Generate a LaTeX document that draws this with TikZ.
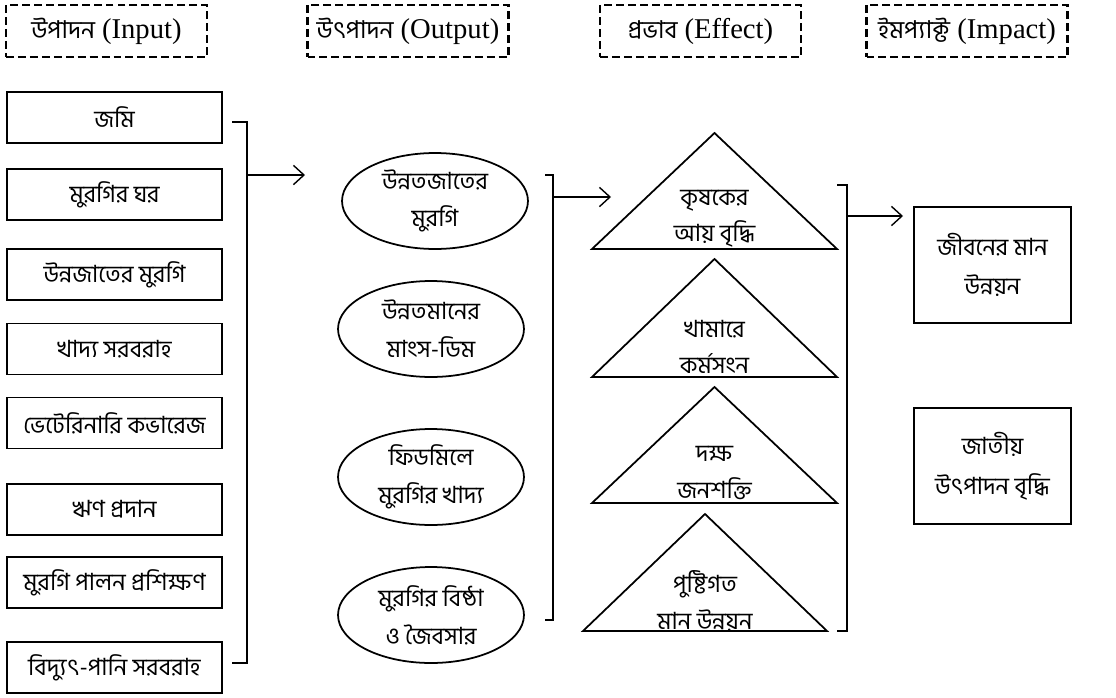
\documentclass[tikz,border=0pt]{standalone}
\usepackage{fontspec}
\setmainfont{Liberation Serif}
\newfontfamily\bnfont[Script=Bengali]{Hind Siliguri}
\newcommand{\headbn}[1]{{\bnfont\fontsize{14}{18}\selectfont #1}}
\usetikzlibrary{shapes,arrows.meta,positioning,calc}

\begin{document}
\begin{tikzpicture}[x=0.02cm, y=-0.02cm,
  head/.style={rectangle, draw, dash pattern=on 4.5pt off 2.3pt, line width=1.3pt,
               minimum width=4.02cm, minimum height=1.04cm, inner sep=0pt,
               font=\fontsize{16.3}{18}\selectfont},
  inbox/.style={rectangle, draw, line width=1pt, minimum width=4.3cm,
                minimum height=1.02cm, inner sep=0pt,
                font=\bnfont\fontsize{13.5}{17}\selectfont},
  outell/.style={ellipse, draw, line width=1pt, minimum width=3.72cm,
                 minimum height=1.92cm, inner sep=0pt, align=center,
                 font=\bnfont\fontsize{13.5}{21.5}\selectfont},
  efftext/.style={align=center, inner sep=0pt,
                  font=\bnfont\fontsize{13.5}{20.5}\selectfont},
  tri/.style={draw, line width=1pt, line join=miter},
  impbox/.style={rectangle, draw, line width=1pt, minimum width=3.14cm,
                 minimum height=2.32cm, inner sep=0pt, align=center,
                 font=\bnfont\fontsize{13.5}{22.5}\selectfont},
  bracket/.style={draw, line width=1pt},
  edge/.style={draw, -{Straight Barb[length=6pt,width=11pt]}, line width=0.8pt},
]
  \useasboundingbox (0,0) rectangle (1116,697);

  % Column x-coordinates
  \def\xin{114.5}
  \def\xout{431}
  \def\xeff{714.5}
  \def\ximp{992.5}

  % Column headings
  \node[head] (hin)  at (106.5,31) {\headbn{উপাদন} (Input)};
  \node[head] (hout) at (408,31)   {\headbn{উৎপাদন} (Output)};
  \node[head] (heff) at (700.5,31) {\headbn{প্রভাব} (Effect)};
  \node[head] (himp) at (967,31)   {\headbn{ইমপ্যাক্ট} (Impact)};

  % Inputs
  \node[inbox] (in1) at (\xin,117.5) {জমি};
  \node[inbox] (in2) at (\xin,194.5) {মুরগির ঘর};
  \node[inbox] (in3) at (\xin,274.5) {উন্নজাতের মুরগি};
  \node[inbox] (in4) at (\xin,349)   {খাদ্য সরবরাহ};
  \node[inbox] (in5) at (\xin,423)   {ভেটেরিনারি কভারেজ};
  \node[inbox] (in6) at (\xin,509.5) {ঋণ প্রদান};
  \node[inbox] (in7) at (\xin,582.5) {মুরগি পালন প্রশিক্ষণ};
  \node[inbox] (in8) at (\xin,667.5) {বিদ্যুৎ-পানি সরবরাহ};

  % Outputs
  \node[outell] (out1) at (435,201)   {উন্নতজাতের\\মুরগি};
  \node[outell] (out2) at (\xout,329) {উন্নতমানের\\মাংস-ডিম};
  \node[outell] (out3) at (\xout,477) {ফিডমিলে\\মুরগির খাদ্য};
  \node[outell] (out4) at (\xout,615) {মুরগির বিষ্ঠা\\ও জৈবসার};

  % Effects (triangles, text sits on the base)
  \draw[tri] (592,249) -- (\xeff,133) -- (837,249) -- cycle;
  \node[efftext] (eff1) at (\xeff,219) {কৃষকের\\আয় বৃদ্ধি};
  \draw[tri] (592,377) -- (\xeff,259) -- (837,377) -- cycle;
  \node[efftext] (eff2) at (\xeff,347) {খামারে\\কর্মসংন};
  \draw[tri] (592,503) -- (\xeff,387) -- (837,503) -- cycle;
  \node[efftext] (eff3) at (\xeff,473) {দক্ষ\\জনশক্তি};
  \draw[tri] (583,631) -- (705,514) -- (827,631) -- cycle;
  \node[efftext] (eff4) at (705,601) {পুষ্টিগত\\মান উন্নয়ন};

  % Impacts
  \node[impbox] (imp1) at (\ximp,265) {জীবনের মান\\উন্নয়ন};
  \node[impbox] (imp2) at (\ximp,466) {জাতীয়\\উৎপাদন বৃদ্ধি};

  % Brackets and arrow ends
  \coordinate (br1t) at (247,122);
  \coordinate (br1b) at (247,663);
  \coordinate (to2)  at (305,175);
  \coordinate (br2t) at (553,175);
  \coordinate (br2b) at (553,620);
  \coordinate (to3)  at (611,197);
  \coordinate (br3t) at (847,185);
  \coordinate (br3b) at (847,631);
  \coordinate (to4)  at (903,216);

  \draw[bracket] ([xshift=-0.3cm]br1t) -- (br1t) -- (br1b) -- ++(-15,0);
  \draw[edge] (br1t |- to2) -- (to2);

  \draw[bracket] ([xshift=-0.16cm]br2t) -- (br2t) -- (br2b) -- ++(-8,0);
  \draw[edge] (br2t |- to3) -- (to3);

  \draw[bracket] ([xshift=-0.2cm]br3t) -- (br3t) -- (br3b) -- ++(-10,0);
  \draw[edge] (br3t |- to4) -- (to4);

\end{tikzpicture}
\end{document}
